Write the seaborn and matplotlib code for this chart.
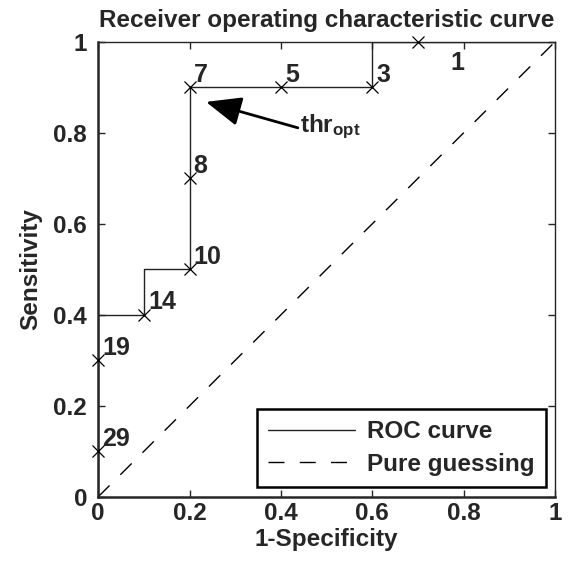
import matplotlib
matplotlib.use("Agg")
import matplotlib.pyplot as plt
import seaborn as sns

# ROC points (1-specificity, sensitivity) and threshold labels
fpr = [0, 0, 0.1, 0.2, 0.2, 0.2, 0.4, 0.6, 0.7]
tpr = [0.1, 0.3, 0.4, 0.5, 0.7, 0.9, 0.9, 0.9, 1.0]
thr_labels = ['29', '19', '14', '10', '8', '7', '5', '3', '1']

# staircase path of the curve, from (0,0) to (1,1)
curve_x = [0] + fpr + [1]
curve_y = [0] + tpr + [1]

guess = [0, 1]
ticks = [0, 0.2, 0.4, 0.6, 0.8, 1]
tick_labels = ['0', '0.2', '0.4', '0.6', '0.8', '1']

sns.set_style("ticks")
plt.rcParams['font.family'] = ['Liberation Sans', 'DejaVu Sans']
plt.rcParams['font.weight'] = 'bold'
plt.rcParams['mathtext.fontset'] = 'custom'
plt.rcParams['mathtext.rm'] = 'Liberation Sans:bold'
plt.rcParams['mathtext.it'] = 'Liberation Sans:bold'
plt.rcParams['mathtext.bf'] = 'Liberation Sans:bold'

FS = 17.5

fig = plt.figure(figsize=(5.71, 5.73), dpi=100)
ax = fig.add_axes([0.172, 0.133, 0.8, 0.794])

sns.lineplot(x=curve_x, y=curve_y, estimator=None, sort=False, drawstyle='steps-pre',
             color='#222222', linewidth=1.0, label='ROC curve', ax=ax)
sns.lineplot(x=guess, y=guess, estimator=None, color='k', linewidth=1.0,
             dashes=False, label='Pure guessing', ax=ax)
ax.lines[1].set_dashes([11.5, 11])
sns.scatterplot(x=fpr, y=tpr, marker='x', color='k', s=75, linewidth=0.9,
                ax=ax, legend=False, zorder=3, clip_on=False)

for x, y, lab in zip(fpr, tpr, thr_labels):
    off = (23, -20) if lab == '1' else (3, 4)
    ax.annotate(lab, (x, y), xytext=off, textcoords='offset points',
                ha='left', va='baseline', fontsize=18, fontweight='bold')

# optimal threshold arrow
ax.annotate('', xy=(0.236, 0.868), xytext=(0.437, 0.811),
            arrowprops=dict(arrowstyle='-|>,head_length=0.6,head_width=0.25',
                            mutation_scale=36, lw=2, color='k',
                            shrinkA=0, shrinkB=0))
ax.text(0.442, 0.802, 'thr$_{opt}$', ha='left', va='baseline', fontsize=FS,
        fontweight='bold')

ax.set_xlim(0, 1)
ax.set_ylim(0, 1)
ax.set_xticks(ticks)
ax.set_xticklabels(tick_labels)
ax.set_yticks(ticks)
ax.set_yticklabels(tick_labels)
ax.tick_params(direction='in', length=5, width=1, top=True, right=True,
               labelsize=FS)
ax.tick_params(axis='x', pad=4)
ax.tick_params(axis='y', pad=8)
for side in ['left', 'bottom']:
    ax.spines[side].set_linewidth(1.8)
for side in ['top', 'right']:
    ax.spines[side].set_visible(True)
    ax.spines[side].set_linewidth(1.0)

ax.set_xlabel('1-Specificity', fontsize=FS, fontweight='bold', labelpad=2)
ax.set_ylabel('Sensitivity', fontsize=FS, fontweight='bold', labelpad=8)
ax.set_title('Receiver operating characteristic curve', fontsize=FS,
             fontweight='bold', pad=11)

leg = ax.legend(loc='lower right', fontsize=FS, frameon=True, fancybox=False,
                handlelength=3.6, handletextpad=0.5, borderpad=0.45,
                labelspacing=0.4, borderaxespad=0,
                bbox_to_anchor=(0.98, 0.022))
leg.get_frame().set_edgecolor('k')
leg.get_frame().set_linewidth(1.8)
leg.get_frame().set_alpha(1)

fig.savefig('out.png', dpi=100)
